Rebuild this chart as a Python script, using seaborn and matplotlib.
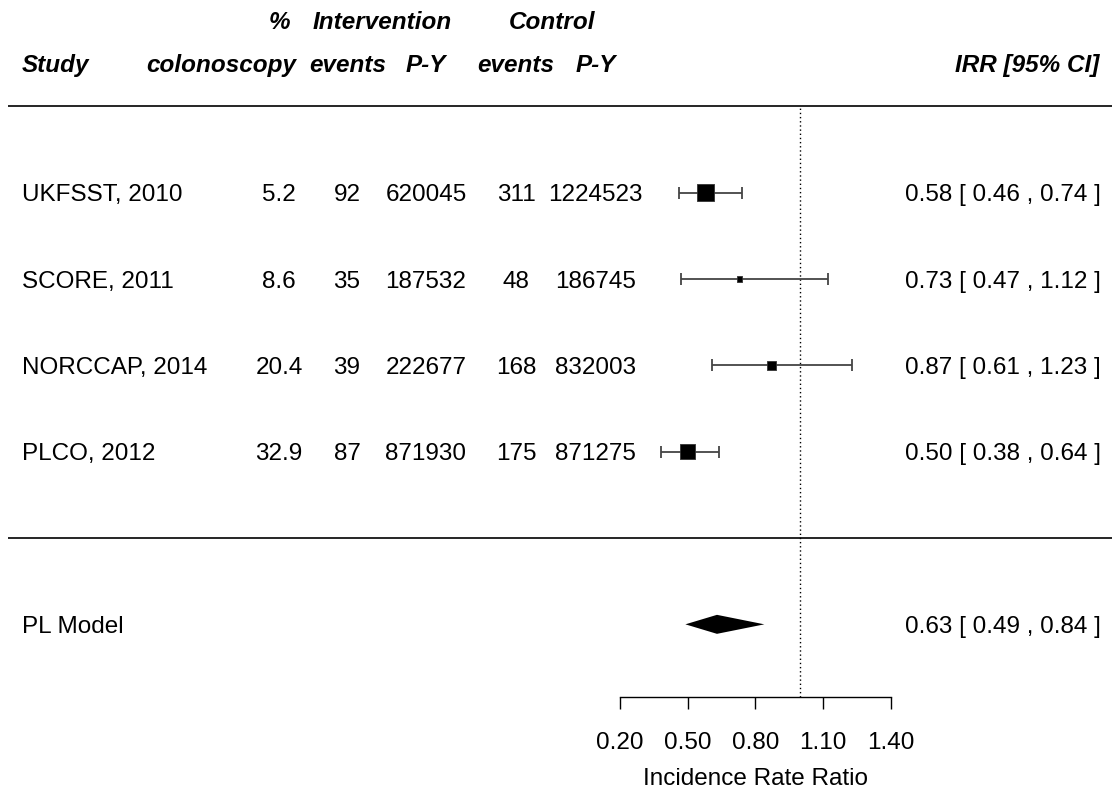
import numpy as np
import pandas as pd
import matplotlib
matplotlib.use("Agg")
import matplotlib.pyplot as plt
import seaborn as sns

# ---- study-level data -------------------------------------------------------
studies = ["UKFSST, 2010", "SCORE, 2011", "NORCCAP, 2014", "PLCO, 2012"]
pct_colonoscopy = [5.2, 8.6, 20.4, 32.9]
int_events = [92, 35, 39, 87]
int_py = [620045, 187532, 222677, 871930]
ctl_events = [311, 48, 168, 175]
ctl_py = [1224523, 186745, 832003, 871275]
irr = [0.58, 0.73, 0.87, 0.50]
ci_low = [0.46, 0.47, 0.61, 0.38]
ci_high = [0.74, 1.12, 1.23, 0.64]

# ---- pooled estimate --------------------------------------------------------
model_label = "PL Model"
model_irr = 0.63
model_low = 0.49
model_high = 0.84

x_ticks = [0.20, 0.50, 0.80, 1.10, 1.40]
ref_value = 1.0

# ---- derived table ----------------------------------------------------------
k = len(studies)
df = pd.DataFrame({
    "study": studies, "pct": pct_colonoscopy,
    "ie": int_events, "ipy": int_py, "ce": ctl_events, "cpy": ctl_py,
    "irr": irr, "lo": ci_low, "hi": ci_high,
})
df["row"] = np.arange(k, 0, -1)

# box size from precision (1/SE on the log scale), rescaled to 0.5..1.5
se = (np.log(df["hi"]) - np.log(df["lo"])) / (2 * 1.96)
wi = 1 / se
psize = (wi - wi.min()) / (wi.max() - wi.min()) + 0.5
side_pt = 8.16 * psize
df["area"] = side_pt ** 2

# ---- figure -----------------------------------------------------------------
sns.set_theme(style="white")
plt.rcParams["font.family"] = ["Liberation Sans", "DejaVu Sans"]
FS = 17.5

fig = plt.figure(figsize=(11.12, 7.90), dpi=100, facecolor="white")
ax = fig.add_axes([0, 0, 1, 1])
ax.set_facecolor("white")
ax.set_xlim(-2.548, 2.381)
ax.set_ylim(-2.919, 6.232)

axis_y = -1.838
for side in ["top", "left", "right"]:
    ax.spines[side].set_visible(False)
ax.spines["bottom"].set_position(("data", axis_y))
ax.spines["bottom"].set_bounds(x_ticks[0], x_ticks[-1])
ax.spines["bottom"].set_color("black")
ax.spines["bottom"].set_linewidth(1.0)
ax.set_xticks(x_ticks)
ax.set_xticklabels([f"{t:.2f}" for t in x_ticks])
ax.tick_params(axis="x", direction="out", length=8.6, width=1.0,
               color="black", labelcolor="black", labelsize=FS, pad=16.5,
               bottom=True)
ax.set_yticks([])
ax.grid(False)

# separator lines and reference line
ax.hlines([k + 1, 0], -2.513, 2.381, colors="black", lw=1.2, zorder=1)
ax.vlines(ref_value, axis_y, k + 1, colors="black", lw=1.0,
          linestyles=(0, (1, 2)), zorder=1)

# confidence intervals and boxes
ax.errorbar(df["irr"], df["row"],
            xerr=[df["irr"] - df["lo"], df["hi"] - df["irr"]],
            fmt="none", ecolor="#444444", elinewidth=1.3,
            capsize=4.6, capthick=1.3, zorder=2)
sns.scatterplot(data=df, x="irr", y="row", marker="s", s=df["area"],
                color="black", edgecolor="#333333", linewidth=0.6,
                legend=False, ax=ax, zorder=3)
ax.set_xlabel("")
ax.set_ylabel("")

# pooled diamond
h = 0.11
ax.fill([model_low, model_irr, model_high, model_irr],
        [-1, -1 + h, -1, -1 - h], color="black", lw=0, zorder=3)

# ---- text columns -----------------------------------------------------------
off = 0.1  # baseline offset so capitals sit centred on the row
x_study = -2.451
x_pct = -1.3115
x_ie = -1.010
x_ipy = -0.660
x_ce = -0.261
x_cpy = 0.091
x_irr = 2.332

txt = dict(fontsize=FS, color="black", va="baseline")
for _, r in df.iterrows():
    y = r["row"] - off
    ax.text(x_study, y, r["study"], ha="left", **txt)
    ax.text(x_pct, y, f"{r['pct']:.1f}", ha="center", **txt)
    ax.text(x_ie, y, f"{r['ie']:d}", ha="center", **txt)
    ax.text(x_ipy, y, f"{r['ipy']:d}", ha="center", **txt)
    ax.text(x_ce, y, f"{r['ce']:d}", ha="center", **txt)
    ax.text(x_cpy, y, f"{r['cpy']:d}", ha="center", **txt)
    ax.text(x_irr, y, f"{r['irr']:.2f} [ {r['lo']:.2f} , {r['hi']:.2f} ]",
            ha="right", **txt)

ax.text(x_study, -1 - off, model_label, ha="left", **txt)
ax.text(x_irr, -1 - off,
        f"{model_irr:.2f} [ {model_low:.2f} , {model_high:.2f} ]",
        ha="right", **txt)

# headers
hdr = dict(fontsize=FS, color="black", va="baseline",
           fontweight="bold", fontstyle="italic")
y1 = k + 2 - off
y2 = k + 1.5 - off
ax.text(-1.307, y1, "%", ha="center", **hdr)
ax.text(-0.855, y1, "Intervention", ha="center", **hdr)
ax.text(-0.101, y1, "Control", ha="center", **hdr)
ax.text(x_study, y2, "Study", ha="left", **hdr)
ax.text(-1.236, y2, "colonoscopy", ha="right", **hdr)
ax.text(-1.006, y2, "events", ha="center", **hdr)
ax.text(-0.660, y2, "P-Y", ha="center", **hdr)
ax.text(-0.261, y2, "events", ha="center", **hdr)
ax.text(0.094, y2, "P-Y", ha="center", **hdr)
ax.text(2.325, y2, "IRR [95% CI]", ha="right", **hdr)

ax.text(0.8, -2.861, "Incidence Rate Ratio", ha="center", **txt)

fig.savefig("out.png", dpi=100, facecolor="white")
